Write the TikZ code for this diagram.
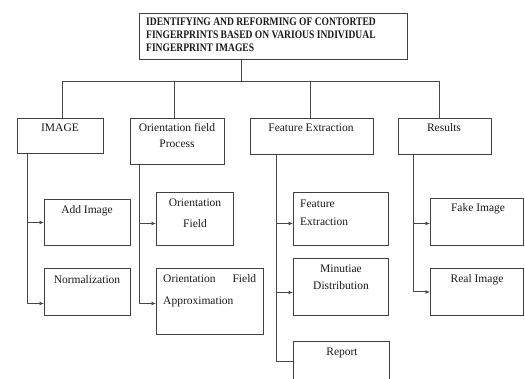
\documentclass[tikz,border=0pt]{standalone}
\usepackage{fontspec}
\setmainfont{Liberation Serif}
\newfontfamily\titlefont[FakeStretch=0.83]{Liberation Serif}
\usetikzlibrary{arrows.meta}
\begin{document}
\begin{tikzpicture}[x=1pt,y=-1pt,
  box/.style={draw=black!75, line width=1pt, anchor=north west, inner sep=0pt},
  txt/.style={font=\fontsize{11.5}{14}\selectfont, inner sep=0pt, text=black!90},
  link/.style={draw=black!72, line width=1pt},
  arr/.style={link, -{Latex[length=4.5pt,width=4pt]}}]
\useasboundingbox (0,0) rectangle (525,379);

% title
\node[box, minimum width=268pt, minimum height=46pt] (title) at (139,13) {};
\node[anchor=west, inner sep=0pt, align=left, text=black!90,
      font=\titlefont\bfseries\fontsize{11.5}{13}\selectfont] (titlet) at (146,35)
  {IDENTIFYING AND REFORMING OF CONTORTED\\FINGERPRINTS BASED ON VARIOUS INDIVIDUAL\\FINGERPRINT IMAGES};

% top row
\node[box, minimum width=86pt, minimum height=35pt] (img) at (17,118) {};
\node[box, minimum width=94pt, minimum height=46pt] (ofp) at (130,118) {};
\node[box, minimum width=123pt, minimum height=36pt] (fe) at (250,118) {};
\node[box, minimum width=93pt, minimum height=36pt] (res) at (398,118) {};

\node[txt] (imgt) at (60,128) {IMAGE};
\node[txt, align=center, font=\fontsize{11.5}{16}\selectfont] (ofpt) at (177,136) {Orientation field\\Process};
\node[txt] (fet) at (311,128) {Feature Extraction};
\node[txt] (rest) at (444,128) {Results};

% sub boxes
\node[box, minimum width=86pt, minimum height=46pt] (add) at (44,199) {};
\node[box, minimum width=86pt, minimum height=47pt] (norm) at (44,268) {};
\node[box, minimum width=77pt, minimum height=53pt] (of) at (156,192) {};
\node[box, minimum width=107pt, minimum height=66pt] (ofa) at (156,268) {};
\node[box, minimum width=95pt, minimum height=53pt] (fe2) at (293,192) {};
\node[box, minimum width=95pt, minimum height=57pt] (mind) at (293,258) {};
\node[box, draw=none, minimum width=95pt, minimum height=37pt] (rep) at (293,342) {};
\draw[link, draw=black!75] (rep.south west) |- (rep.north east) -- (rep.south east);
\node[box, minimum width=93pt, minimum height=47pt] (fake) at (430,198) {};
\node[box, minimum width=93pt, minimum height=47pt] (real) at (430,268) {};

\node[txt] (addt) at (87,211) {Add Image};
\node[txt] (normt) at (87,280) {Normalization};
\node[txt, align=center, font=\fontsize{11.5}{21}\selectfont] (oft) at (195,213.5) {Orientation\\Field};
\node[txt, align=left, anchor=west, font=\fontsize{11.5}{22}\selectfont] (ofat) at (163,291)
  {\makebox[93pt][s]{Orientation\hfill Field}\\Approximation};
\node[txt, align=left, anchor=west, font=\fontsize{11.5}{18}\selectfont] (fe2t) at (300,213) {Feature\\Extraction};
\node[txt, align=center, font=\fontsize{11.5}{17}\selectfont] (mindt) at (341,277.5) {Minutiae\\Distribution};
\node[txt] (rept) at (342,353) {Report};
\node[txt] (faket) at (478,209) {Fake Image};
\node[txt] (realt) at (477,280) {Real Image};

% top connectors
\coordinate (bus) at (241,82);
\draw[link] (bus |- title.south) -- (bus);
\draw[link] ([xshift=2pt]img.north) |- (bus);
\draw[link] ([xshift=-5.5pt]res.north) |- (bus);
\draw[link] ([xshift=-3pt]ofp.north) -- ([xshift=-3pt]ofp.north |- bus);
\draw[link] ([xshift=-1.5pt]fe.north) -- ([xshift=-1.5pt]fe.north |- bus);

% trunks
\draw[arr] ([xshift=10pt]img.south west) |- (add.west);
\draw[arr] ([xshift=10pt]img.south west) |- ([yshift=-11.5pt]norm.west);
\draw[arr] ([xshift=9pt]ofp.south west) |- ([yshift=-4.5pt]of.west);
\draw[arr] ([xshift=9pt]ofp.south west) |- ([yshift=-2pt]ofa.west);
\draw[arr] ([xshift=26pt]fe.south west) |- ([yshift=-4.5pt]fe2.west);
\draw[arr] ([xshift=26pt]fe.south west) |- ([yshift=-5.5pt]mind.west);
\draw[link] ([xshift=26pt]fe.south west) |- ([yshift=-20pt]rep.north west);
\draw[arr] ([xshift=15pt]res.south west) |- ([yshift=-1.5pt]fake.west);
\draw[arr] ([xshift=15pt]res.south west) |- (real.west);
\end{tikzpicture}
\end{document}
